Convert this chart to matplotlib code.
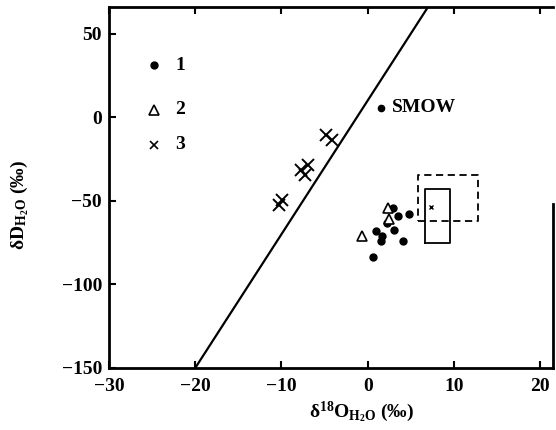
import numpy as np
import matplotlib
matplotlib.use("Agg")
import matplotlib.pyplot as plt

plt.rcParams['font.family'] = ['Liberation Serif', 'DejaVu Serif']
plt.rcParams['mathtext.fontset'] = 'custom'
plt.rcParams['mathtext.rm'] = 'Liberation Serif:bold'
plt.rcParams['mathtext.bf'] = 'Liberation Serif:bold'
plt.rcParams['mathtext.it'] = 'Liberation Serif:italic:bold'

# group 1 (filled dots)
dots_x = [2.9, 3.5, 4.8, 2.2, 1.0, 3.1, 1.7, 1.5, 4.1, 0.6]
dots_y = [-54.3, -59, -58, -63, -68, -67.4, -71, -74, -74, -83.6]
# group 2 (open triangles)
tri_x = [2.4, 2.5, -0.7]
tri_y = [-54.3, -61, -71]
# group 3 (crosses)
cross_x = [-10.3, -9.9, -7.7, -6.9, -7.3, -4.8, -4.1]
cross_y = [-52.5, -49.5, -31.5, -28.5, -34.5, -10.6, -13.6]

# meteoric water line dD = 8 d18O + 10
mwl_x = np.array([-20.0, 7.0])
mwl_y = 8 * mwl_x + 10

smow = (1.6, 5.6)
solid_box = (6.6, -75.2, 9.6, -42.9)   # x0, y0, x1, y1
dash_box = (5.8, -62.0, 12.75, -34.5)
box_mark = (7.4, -53.6)

fig = plt.figure(figsize=(5.56, 4.30), dpi=100)
ax = fig.add_axes([109 / 556, (430 - 368) / 430, 444 / 556, 361 / 430])

ax.plot(mwl_x, mwl_y, color='black', lw=1.6)
ax.plot(dots_x, dots_y, 'o', color='black', ms=5)
ax.plot(tri_x, tri_y, '^', mfc='white', mec='black', ms=7, mew=1.2)
ax.plot(cross_x, cross_y, 'x', color='black', ms=9, mew=1.4)

ax.plot(*smow, 'o', color='black', ms=4.5)
ax.text(smow[0] + 1.2, smow[1], 'SMOW', fontsize=14, fontweight='bold', va='center', ha='left')

x0, y0, x1, y1 = solid_box
ax.plot([x0, x1, x1, x0, x0], [y0, y0, y1, y1, y0], color='black', lw=1.3)
x0, y0, x1, y1 = dash_box
ax.plot([x0, x1, x1, x0, x0], [y0, y0, y1, y1, y0], color='black', lw=1.3, ls=(0, (4, 2.5)))
ax.plot(*box_mark, 'x', color='black', ms=3, mew=1)

# legend drawn by hand
leg_y = [0.839, 0.715, 0.618]
ax.plot(0.101, leg_y[0], 'o', color='black', ms=5, transform=ax.transAxes)
ax.plot(0.101, leg_y[1], '^', mfc='white', mec='black', ms=7, mew=1.2, transform=ax.transAxes)
ax.plot(0.101, leg_y[2], 'x', color='black', ms=6, mew=1.2, transform=ax.transAxes)
for lab, yy in zip(['1', '2', '3'], leg_y):
    ax.text(0.150, yy, lab, fontsize=14, fontweight='bold', va='center', transform=ax.transAxes)

ax.set_xlim(-29, 21.5)
ax.set_ylim(-150, 66)
ax.set_xticks([-30, -20, -10, 0, 10, 20])
ax.set_xticklabels(['\u221230', '\u221220', '\u221210', '0', '10', '20'])
ax.set_yticks([50, 0, -50, -100, -150])
ax.set_yticklabels(['50', '0', '\u221250', '\u2212100', '\u2212150'])
ax.tick_params(direction='in', length=5, width=1.5, top=True, labelsize=14)
ax.tick_params(axis='x', pad=7)
ax.tick_params(axis='y', pad=5)
for lab in ax.get_xticklabels() + ax.get_yticklabels():
    lab.set_fontweight('bold')
for sp in ax.spines.values():
    sp.set_linewidth(2)
ax.spines['right'].set_bounds(-150, -52)

ax.set_xlabel(r'δ$^{18}$O$_{\mathrm{H_2O}}$ (‰)', fontsize=14, fontweight='bold')
ax.xaxis.set_label_coords((362 - 109) / 444, -0.088)
ax.set_ylabel(r'δD$_{\mathrm{H_2O}}$ (‰)', fontsize=14, fontweight='bold')
ax.yaxis.set_label_coords(-0.175, 0.45)

fig.savefig('out.png', dpi=100)
